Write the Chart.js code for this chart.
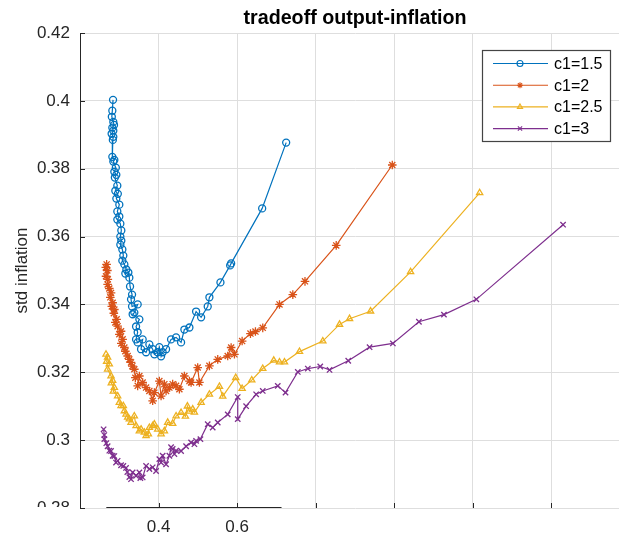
<!DOCTYPE html>
<html>
<head>
<meta charset="utf-8">
<script src="https://cdn.jsdelivr.net/npm/chart.js@4.4.1/dist/chart.umd.min.js"></script>
<style>
  html, body { margin: 0; padding: 0; background: #fff; overflow: hidden; }
  canvas { display: block; }
</style>
</head>
<body>
<canvas id="tradeoff" width="710" height="536"></canvas>
<script>
const FONT = '"Liberation Sans", Arial, Helvetica, sans-serif';
const INK = '#262626';

const chartTitle = 'tradeoff output-inflation';
const seriesLabels = ['c1=1.5', 'c1=2', 'c1=2.5', 'c1=3'];
const seriesColors = ['#0072BD', '#D95319', '#EDB120', '#7E2F8E'];

// std output (x) / std inflation (y) for each c1
const xC15 = [0.2841,0.2823,0.2810,0.2848,0.2866,0.2823,0.2848,0.2805,0.2848,0.2836,0.2823,0.2874,0.2848,0.2912,0.2874,0.2925,0.2887,0.2950,0.2899,0.2963,0.2925,0.3001,0.2950,0.3001,0.2950,0.3027,0.3052,0.3027,0.3052,0.3027,0.3078,0.3103,0.3078,0.3129,0.3180,0.3154,0.3231,0.3256,0.3274,0.3325,0.3299,0.3325,0.3468,0.3383,0.3340,0.3511,0.3427,0.3468,0.3427,0.3468,0.3595,0.3554,0.3682,0.3766,0.3850,0.3893,0.3977,0.4020,0.4064,0.4104,0.4191,0.4318,0.4446,0.4573,0.4657,0.4785,0.4955,0.5083,0.5251,0.5294,0.5575,0.5822,0.5847,0.6637,0.7248];
const yC15 = [0.4003,0.3971,0.3953,0.3938,0.3929,0.3921,0.3912,0.3903,0.3894,0.3885,0.3835,0.3826,0.3821,0.3803,0.3791,0.3782,0.3774,0.3750,0.3735,0.3726,0.3712,0.3694,0.3674,0.3659,0.3650,0.3638,0.3618,0.3600,0.3588,0.3576,0.3562,0.3544,0.3529,0.3518,0.3503,0.3491,0.3494,0.3479,0.3453,0.3429,0.3415,0.3394,0.3400,0.3376,0.3371,0.3356,0.3335,0.3318,0.3297,0.3288,0.3297,0.3268,0.3259,0.3282,0.3268,0.3253,0.3259,0.3274,0.3247,0.3259,0.3268,0.3297,0.3303,0.3288,0.3326,0.3332,0.3379,0.3362,0.3394,0.3421,0.3465,0.3515,0.3521,0.3683,0.3877];

const xC2 = [0.2678,0.2657,0.2696,0.2662,0.2708,0.2703,0.2746,0.2790,0.2772,0.2831,0.2810,0.2874,0.2861,0.2932,0.2899,0.2958,0.3045,0.3001,0.3085,0.3052,0.3129,0.3154,0.3213,0.3256,0.3299,0.3332,0.3383,0.3409,0.3511,0.3468,0.3595,0.3682,0.3766,0.3850,0.3893,0.4020,0.4064,0.4148,0.4191,0.4275,0.4359,0.4446,0.4530,0.4657,0.4785,0.4828,0.4996,0.5039,0.5294,0.5506,0.5760,0.5847,0.5931,0.6127,0.6339,0.6466,0.6652,0.7078,0.7417,0.7727,0.8522,0.9949];
const yC2 = [0.3518,0.3509,0.3500,0.3483,0.3474,0.3459,0.3447,0.3434,0.3421,0.3405,0.3394,0.3385,0.3374,0.3356,0.3347,0.3336,0.3321,0.3312,0.3297,0.3285,0.3273,0.3262,0.3248,0.3238,0.3229,0.3218,0.3209,0.3184,0.3189,0.3160,0.3170,0.3155,0.3145,0.3116,0.3140,0.3174,0.3130,0.3165,0.3145,0.3155,0.3165,0.3160,0.3150,0.3189,0.3174,0.3170,0.3214,0.3170,0.3219,0.3238,0.3248,0.3273,0.3253,0.3292,0.3314,0.3320,0.3331,0.3400,0.3429,0.3468,0.3574,0.3811];

const xC25 = [0.2662,0.2703,0.2678,0.2746,0.2703,0.2790,0.2831,0.2797,0.2874,0.2848,0.2958,0.3001,0.3045,0.3103,0.3129,0.3172,0.3213,0.3256,0.3299,0.3383,0.3427,0.3511,0.3554,0.3638,0.3682,0.3740,0.3766,0.3850,0.3893,0.3977,0.4064,0.4148,0.4232,0.4359,0.4446,0.4573,0.4683,0.4734,0.4785,0.4869,0.4912,0.5083,0.5294,0.5549,0.5633,0.5964,0.6127,0.6372,0.6652,0.6932,0.7078,0.7205,0.7587,0.8181,0.8606,0.8861,0.9396,1.0415,1.2173];
const yC25 = [0.3253,0.3244,0.3232,0.3224,0.3209,0.3189,0.3176,0.3168,0.3155,0.3144,0.3130,0.3111,0.3101,0.3101,0.3086,0.3076,0.3067,0.3062,0.3052,0.3071,0.3042,0.3027,0.3032,0.3023,0.3013,0.3018,0.3037,0.3042,0.3047,0.3032,0.3018,0.3027,0.3052,0.3049,0.3071,0.3081,0.3070,0.3100,0.3085,0.3091,0.3082,0.3111,0.3135,0.3158,0.3129,0.3184,0.3152,0.3177,0.3211,0.3235,0.3230,0.3230,0.3261,0.3292,0.3341,0.3358,0.3380,0.3496,0.3729];

const xC3 = [0.2601,0.2619,0.2619,0.2670,0.2703,0.2746,0.2790,0.2831,0.2874,0.2917,0.2958,0.3045,0.3103,0.3172,0.3205,0.3256,0.3299,0.3340,0.3427,0.3511,0.3536,0.3595,0.3682,0.3766,0.3850,0.3936,0.4020,0.4064,0.4104,0.4191,0.4275,0.4318,0.4359,0.4403,0.4446,0.4573,0.4701,0.4828,0.4912,0.4955,0.5065,0.5251,0.5378,0.5506,0.5760,0.6015,0.6015,0.6229,0.6484,0.6652,0.7034,0.7231,0.7544,0.7799,0.8115,0.8352,0.8828,0.9371,0.9964,1.0627,1.1264,1.2089,1.4296];
const yC3 = [0.3032,0.3015,0.3003,0.2991,0.2982,0.2969,0.2968,0.2954,0.2953,0.2934,0.2939,0.2926,0.2924,0.2918,0.2906,0.2891,0.2885,0.2905,0.2895,0.2905,0.2888,0.2890,0.2924,0.2915,0.2920,0.2909,0.2944,0.2934,0.2954,0.2929,0.2954,0.2979,0.2974,0.2959,0.2969,0.2968,0.2982,0.2993,0.2988,0.2998,0.3003,0.3047,0.3037,0.3052,0.3076,0.3127,0.3062,0.3100,0.3135,0.3145,0.3160,0.3140,0.3201,0.3211,0.3217,0.3207,0.3234,0.3274,0.3285,0.3349,0.3370,0.3415,0.3635];

const xTickValues = [0.2, 0.4, 0.6, 0.8, 1.0, 1.2, 1.4, 1.6];
const xLabelled = [0.4, 0.6];
const yTickValues = [0.28, 0.30, 0.32, 0.34, 0.36, 0.38, 0.40, 0.42];
const xAxisSpan = [0.267, 0.713];

const pointStyles = ['circle', 'star', 'triangle', 'crossRot'];
const pointSizes = [3.5, 4.3, 3.6, 3.8];

function pairs(xs, ys) {
  const n = Math.min(xs.length, ys.length);
  const out = [];
  for (let i = 0; i < n; i++) out.push({ x: xs[i], y: ys[i] });
  return out;
}

const fmt = (v) => String(+v.toFixed(2));

// title centred over the plot box
const boxTitle = {
  id: 'boxTitle',
  afterDraw(chart) {
    const { ctx, chartArea: a } = chart;
    ctx.save();
    ctx.font = 'bold 19.7px ' + FONT;
    ctx.fillStyle = '#000';
    ctx.textAlign = 'center';
    ctx.textBaseline = 'middle';
    ctx.fillText(chartTitle, (a.left + a.right) / 2, 19);
    ctx.restore();
  },
};

// inward ticks, the short bottom axis stroke and the blank lower-left corner
const axesDecor = {
  id: 'axesDecor',
  afterDraw(chart) {
    const { ctx, chartArea: a, scales: { x, y } } = chart;
    ctx.save();
    ctx.strokeStyle = INK;
    ctx.lineWidth = 1;
    ctx.beginPath();
    y.ticks.forEach((t) => {
      const py = Math.round(y.getPixelForValue(t.value)) + 0.5;
      ctx.moveTo(a.left, py);
      ctx.lineTo(a.left + 5, py);
    });
    x.ticks.forEach((t) => {
      if (t.value <= x.min + 1e-9) return;
      const px = Math.round(x.getPixelForValue(t.value)) + 0.5;
      ctx.moveTo(px, a.bottom);
      ctx.lineTo(px, a.bottom - 5);
    });
    ctx.moveTo(x.getPixelForValue(xAxisSpan[0]), a.bottom - 0.5);
    ctx.lineTo(x.getPixelForValue(xAxisSpan[1]), a.bottom - 0.5);
    ctx.stroke();
    ctx.fillStyle = '#fff';
    ctx.fillRect(0, a.bottom - 1, a.left - 1, chart.height - a.bottom + 1);
    ctx.restore();
  },
};

// boxed legend in the upper right
const boxLegend = {
  id: 'boxLegend',
  afterDraw(chart) {
    const { ctx } = chart;
    const bx = 482, by = 50, bw = 128, bh = 91;
    ctx.save();
    ctx.fillStyle = '#fff';
    ctx.fillRect(bx, by, bw, bh);
    ctx.strokeStyle = '#444';
    ctx.lineWidth = 1.2;
    ctx.strokeRect(bx + 0.5, by + 0.5, bw, bh);
    ctx.font = '16px ' + FONT;
    ctx.textBaseline = 'middle';
    chart.data.datasets.forEach((ds, i) => {
      const ry = by + 13.5 + i * 21.7;
      ctx.strokeStyle = ds.borderColor;
      ctx.lineWidth = 1.1;
      ctx.beginPath();
      ctx.moveTo(bx + 11, ry);
      ctx.lineTo(bx + 66, ry);
      ctx.stroke();
      ctx.fillStyle = 'rgba(0,0,0,0)';
      Chart.helpers.drawPoint(ctx, { pointStyle: ds.pointStyle, radius: 3, borderWidth: 1.1, rotation: 0 }, bx + 38, ry);
      ctx.fillStyle = '#000';
      ctx.fillText(ds.label, bx + 72, ry + 1);
    });
    ctx.restore();
  },
};

const seriesData = [pairs(xC15, yC15), pairs(xC2, yC2), pairs(xC25, yC25), pairs(xC3, yC3)];

new Chart(document.getElementById('tradeoff'), {
  type: 'scatter',
  data: {
    datasets: seriesData.map((d, i) => ({
      label: seriesLabels[i],
      data: d,
      showLine: true,
      borderColor: seriesColors[i],
      borderWidth: 1.2,
      backgroundColor: 'rgba(0,0,0,0)',
      pointStyle: pointStyles[i],
      pointRadius: pointSizes[i],
      pointBorderWidth: 1.3,
      pointBorderColor: seriesColors[i],
      pointBackgroundColor: 'rgba(0,0,0,0)',
      tension: 0,
    })),
  },
  options: {
    responsive: false,
    animation: false,
    events: [],
    layout: { padding: { top: 33, right: 80, bottom: 0, left: 0 } },
    plugins: {
      legend: { display: false },
      tooltip: { enabled: false },
      title: { display: false },
    },
    scales: {
      x: {
        type: 'linear',
        min: 0.2,
        max: 1.6,
        afterBuildTicks: (s) => { s.ticks = xTickValues.map((v) => ({ value: v })); },
        afterFit: (s) => { s.height = 28; },
        ticks: {
          autoSkip: false,
          maxRotation: 0,
          padding: 9,
          color: INK,
          font: { family: FONT, size: 17 },
          callback: (v) => (xLabelled.some((l) => Math.abs(l - v) < 1e-6) ? fmt(v) : ''),
        },
        grid: { color: '#dedede', lineWidth: 1, drawTicks: false },
        border: { display: false },
      },
      y: {
        type: 'linear',
        min: 0.28,
        max: 0.42,
        afterBuildTicks: (s) => { s.ticks = yTickValues.map((v) => ({ value: v })); },
        afterFit: (s) => { s.width = 80; },
        ticks: {
          autoSkip: false,
          padding: 10,
          color: INK,
          font: { family: FONT, size: 17 },
          callback: (v) => fmt(v),
        },
        grid: { color: '#dedede', lineWidth: 1, drawTicks: false },
        border: { display: true, color: INK, width: 1 },
        title: {
          display: true,
          text: 'std inflation',
          color: INK,
          font: { family: FONT, size: 17 },
          padding: { top: 12, bottom: 0 },
        },
      },
    },
  },
  plugins: [axesDecor, boxLegend, boxTitle],
});
</script>
</body>
</html>
